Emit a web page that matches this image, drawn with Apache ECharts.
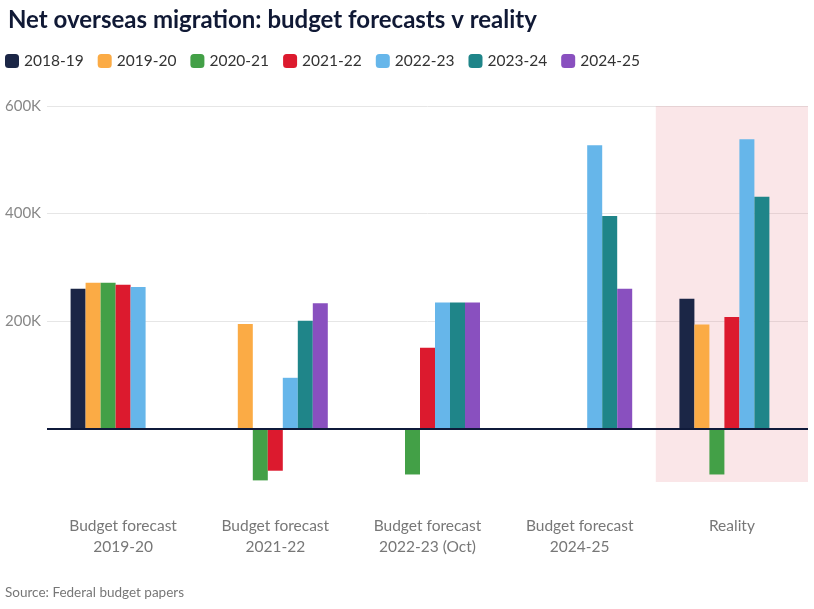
<!DOCTYPE html>
<html>
<head>
<meta charset="utf-8">
<script src="https://cdn.jsdelivr.net/npm/echarts@6/dist/echarts.min.js"></script>
<style>
  html, body { margin: 0; padding: 0; background: #fff; }
  #main { width: 814px; height: 609px; }
</style>
</head>
<body>
<div id="main"></div>
<script>
// categories and series (net overseas migration, people)
const categories = ['Budget forecast\n2019-20', 'Budget forecast\n2021-22', 'Budget forecast\n2022-23 (Oct)', 'Budget forecast\n2024-25', 'Reality'];
const seriesNames = ['2018-19', '2019-20', '2020-21', '2021-22', '2022-23', '2023-24', '2024-25'];
const y2018_19 = [260000, null, null, null, 241000];
const y2019_20 = [271000, 194000, null, null, 193000];
const y2020_21 = [271000, -97000, -86000, null, -86000];
const y2021_22 = [267000, -79000, 150000, null, 207000];
const y2022_23 = [263000, 94000, 234000, 527000, 538000];
const y2023_24 = [null, 200000, 234000, 395000, 431000];
const y2024_25 = [null, 233000, 234000, 260000, null];
// shaded "Reality" band
const bandTop = [null, null, null, null, 600000];
const bandBottom = [null, null, null, null, -100000];

const colors = ['#1b2646', '#fbab45', '#43a047', '#dc1a2e', '#66b6ea', '#1f8589', '#8950bf'];
const values = [y2018_19, y2019_20, y2020_21, y2021_22, y2022_23, y2023_24, y2024_25];

const font = 'Lato, "Open Sans", sans-serif';

let myChart = echarts.init(document.getElementById('main'));

let series = values.map(function (d, i) {
    let s = {
        name: seriesNames[i],
        type: 'bar',
        data: d,
        barWidth: 15,
        barGap: '0%',
        z: 3,
        itemStyle: {color: colors[i]}
    };
    if (i === 0) {
        // zero line
        s.markLine = {
            silent: true,
            symbol: 'none',
            label: {show: false},
            lineStyle: {color: '#0f1a3a', width: 2, type: 'solid'},
            data: [{yAxis: 0}]
        };
    }
    return s;
});

series.push({
    name: 'band', type: 'bar', xAxisIndex: 1, stack: 'band', data: bandTop,
    barWidth: '100%', silent: true, z: 1,
    itemStyle: {color: 'rgba(232,130,140,0.2)'}
});
series.push({
    name: 'band2', type: 'bar', xAxisIndex: 1, stack: 'band', data: bandBottom,
    barWidth: '100%', silent: true, z: 1,
    itemStyle: {color: 'rgba(232,130,140,0.2)'}
});

let option = {
    animation: false,
    backgroundColor: '#fff',
    textStyle: {fontFamily: font},
    title: {
        text: 'Net overseas migration: budget forecasts v reality',
        left: 3,
        top: 3,
        textStyle: {fontFamily: font, fontSize: 24, fontWeight: 'bold', color: '#101935'}
    },
    legend: {
        data: seriesNames,
        left: 5,
        top: 53,
        padding: 0,
        icon: 'roundRect',
        itemWidth: 14,
        itemHeight: 14,
        itemGap: 14,
        textStyle: {fontFamily: font, fontSize: 15.5, color: '#333'}
    },
    grid: {left: 47, right: 6, top: 106, bottom: 127, containLabel: false},
    xAxis: [
        {
            type: 'category',
            data: categories,
            axisLine: {show: false},
            axisTick: {show: false},
            axisLabel: {
                margin: 33,
                fontFamily: font,
                fontSize: 15.5,
                lineHeight: 21,
                color: '#777'
            }
        },
        {
            type: 'category',
            data: categories,
            show: false
        }
    ],
    yAxis: {
        type: 'value',
        min: -100000,
        max: 600000,
        interval: 100000,
        axisLine: {show: false},
        axisTick: {show: false},
        axisLabel: {
            align: 'left',
            margin: 42,
            fontFamily: font,
            fontSize: 15,
            color: '#888',
            formatter: function (v) {
                return (v > 0 && v % 200000 === 0) ? (v / 1000) + 'K' : '';
            }
        },
        splitLine: {lineStyle: {color: ['transparent', '#e6e6e6'], width: 1}}
    },
    graphic: [{
        type: 'text',
        left: 5,
        top: 586,
        style: {text: 'Source: Federal budget papers', fontFamily: font, fontSize: 13.5, fill: '#777'}
    }],
    series: series
};

myChart.setOption(option);
</script>
</body>
</html>
